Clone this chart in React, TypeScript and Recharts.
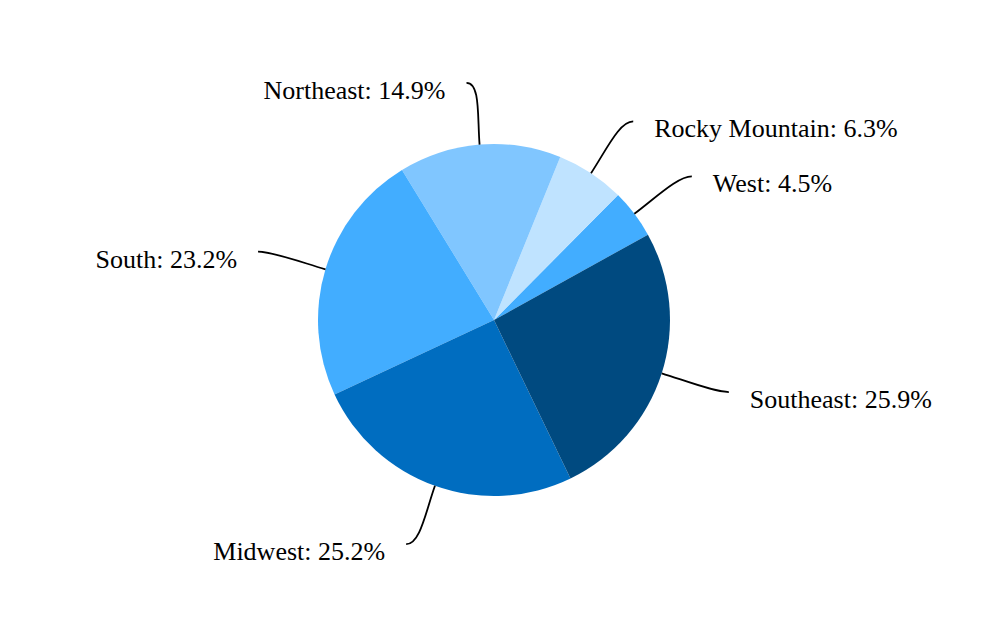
import { PieChart, Pie, Cell } from "recharts";

const regions = ["West", "Rocky Mountain", "Northeast", "South", "Midwest", "Southeast"];
const shares = [4.5, 6.3, 14.9, 23.2, 25.2, 25.9];
const colors = ["#42adff", "#bfe3ff", "#80c6ff", "#42adff", "#006dc0", "#004a80"];

const data = regions.map((name, i) => ({ name, value: shares[i] }));

const RAD = Math.PI / 180;

// curved connector + text, placed just outside the pie
const renderLabel = (props: any) => {
  const { cx, cy, midAngle, outerRadius, name, value } = props;
  const cos = Math.cos(-midAngle * RAD);
  const sin = Math.sin(-midAngle * RAD);
  const right = cos >= 0;
  const side = right ? 1 : -1;
  const sx = cx + outerRadius * cos;
  const sy = cy + outerRadius * sin;
  const c1x = cx + (outerRadius + 28) * cos;
  const c1y = cy + (outerRadius + 28) * sin;
  const ex = cx + (outerRadius + 62) * cos + side * 8;
  const ey = cy + (outerRadius + 62) * sin;
  const c2x = ex - side * 14;
  const tx = ex + side * 21;
  return (
    <g>
      <path
        d={`M${sx},${sy} C${c1x},${c1y} ${c2x},${ey} ${ex},${ey}`}
        stroke="#000"
        strokeWidth={1.8}
        fill="none"
      />
      <text
        x={tx}
        y={ey + 16}
        textAnchor={right ? "start" : "end"}
        fill="#000"
        fontSize={26}
        fontFamily="'Liberation Serif', 'Times New Roman', serif"
      >
        {`${name}: ${value.toFixed(1)}%`}
      </text>
    </g>
  );
};

export default function App() {
  return (
    <div style={{ position: "absolute", left: 0, top: 0, width: 988, height: 640, background: "#fff" }}>
      <PieChart width={988} height={640} margin={{ top: 0, right: 0, bottom: 0, left: 0 }}>
        <Pie
          data={data}
          dataKey="value"
          nameKey="name"
          cx={494}
          cy={320}
          outerRadius={176}
          startAngle={29}
          endAngle={389}
          stroke="none"
          label={renderLabel}
          labelLine={false}
          isAnimationActive={false}
        >
          {data.map((d, i) => (
            <Cell key={d.name} fill={colors[i]} />
          ))}
        </Pie>
      </PieChart>
    </div>
  );
}
